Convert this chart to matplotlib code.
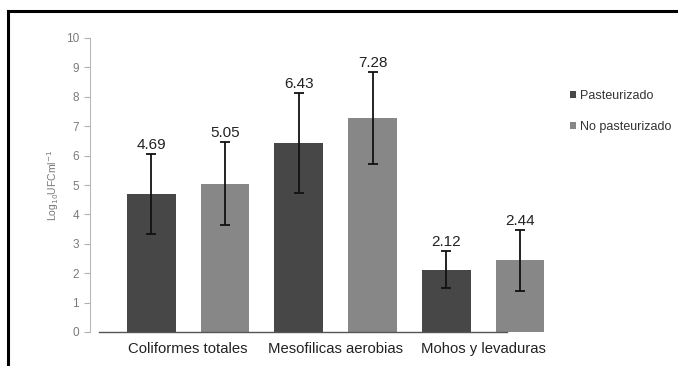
import matplotlib
matplotlib.use("Agg")
import matplotlib.pyplot as plt
import numpy as np
from matplotlib.lines import Line2D

plt.rcParams['font.family'] = ['Liberation Sans', 'DejaVu Sans']

categories = ["Coliformes totales", "Mesofilicas aerobias", "Mohos y levaduras"]
series_names = ["Pasteurizado", "No pasteurizado"]
pasteurizado = [4.69, 6.43, 2.12]
no_pasteurizado = [5.05, 7.28, 2.44]
err_past = [1.36, 1.70, 0.63]
err_nopast = [1.40, 1.57, 1.03]
labels_past = ["4.69", "6.43", "2.12"]
labels_nopast = ["5.05", "7.28", "2.44"]
yticks = list(range(0, 11))

dark = "#474747"
light = "#878787"

fig = plt.figure(figsize=(6.78, 3.66), dpi=100)
ax = fig.add_axes([90/678, 1 - 332/366, (557-90)/678, (332-38)/366])

x = np.arange(len(categories))
w = 0.33
off = 0.25
ax.bar(x - off, pasteurizado, w, color=dark, label=series_names[0], zorder=2)
ax.bar(x + off, no_pasteurizado, w, color=light, label=series_names[1], zorder=2)
ax.errorbar(x - off, pasteurizado, yerr=err_past, fmt='none', ecolor='#111111',
            elinewidth=1.3, capsize=3.5, capthick=1.3, zorder=3)
ax.errorbar(x + off, no_pasteurizado, yerr=err_nopast, fmt='none', ecolor='#111111',
            elinewidth=1.3, capsize=3.5, capthick=1.3, zorder=3)

for xi, v, e, t in zip(x - off, pasteurizado, err_past, labels_past):
    ax.annotate(t, (xi, v + e), xytext=(0, 1.5), textcoords='offset points',
                ha='center', va='bottom', fontsize=11, color='#222222')
for xi, v, e, t in zip(x + off, no_pasteurizado, err_nopast, labels_nopast):
    ax.annotate(t, (xi, v + e), xytext=(0, 1.5), textcoords='offset points',
                ha='center', va='bottom', fontsize=11, color='#222222')

ax.set_xlim(-0.665, 2.5)
ax.set_ylim(0, 10)
ax.set_yticks(yticks)
ax.set_yticklabels([str(t) for t in yticks], fontsize=8.5, color='#7a7a7a')
ax.tick_params(axis='y', length=4, color='#b0b0b0', width=0.8, pad=4)
ax.set_xticks(x)
ax.set_xticklabels(categories, fontsize=10.7, color='#222222')
ax.tick_params(axis='x', length=0, pad=7)

for s in ['top', 'right']:
    ax.spines[s].set_visible(False)
ax.spines['left'].set_color('#b8b8b8')
ax.spines['left'].set_linewidth(0.8)
ax.spines['bottom'].set_color('#555555')
ax.spines['bottom'].set_linewidth(1.0)
ax.spines['bottom'].set_bounds(-0.605, 2.16)

ax.set_ylabel(r'Log$_{10}$UFCml$^{-1}$', fontsize=7.5, color='#777777', labelpad=3)

leg = ax.legend(loc='upper left', bbox_to_anchor=(565/678, 1 - 85/366),
                bbox_transform=fig.transFigure, frameon=False, fontsize=9,
                handlelength=0.5, handleheight=0.5, handletextpad=0.3,
                labelspacing=1.5, borderaxespad=0)
for t in leg.get_texts():
    t.set_color('#333333')

# image border (left and top)
fig.add_artist(Line2D([8/678, 8/678], [0, 1 - 11/366], transform=fig.transFigure,
                      color='black', linewidth=2.2))
fig.add_artist(Line2D([8/678, 1], [1 - 11/366, 1 - 11/366], transform=fig.transFigure,
                      color='black', linewidth=2.2))

fig.savefig("out.png", dpi=100)
